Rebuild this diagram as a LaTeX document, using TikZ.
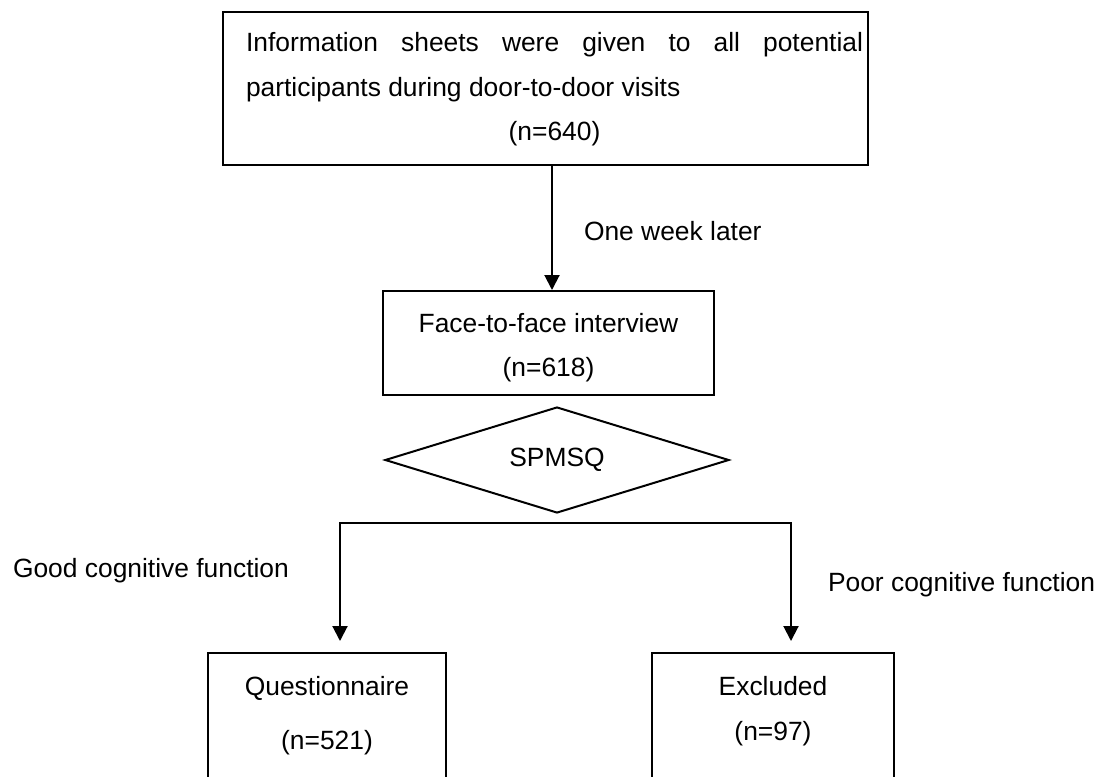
\documentclass[tikz,border=0pt]{standalone}
\usepackage{fontspec}
\setmainfont{Liberation Sans}
\usetikzlibrary{shapes.geometric,arrows.meta}

\begin{document}
\begin{tikzpicture}[x=0.5pt, y=-0.5pt, line width=1pt,
    >={Triangle[length=7.5pt,width=7.5pt]},
    box/.style={draw, inner sep=0pt},
    txt/.style={inner sep=0pt, font=\fontsize{13.2}{22}\selectfont}]
    \useasboundingbox (0,0) rectangle (1107,776);
    \clip (0,0) rectangle (1107,776);
    \coordinate (axis) at (552,0);
    \coordinate (forkl) at (340,523);
    \coordinate (forkr) at (791,523);

    \node[box, minimum width=322.5pt, minimum height=76.5pt] (info) at (545.5,88.5) {};
    \node[txt, anchor=north west, text width=308.5pt, align=justify,
      font=\fontsize{13.2}{22.25}\selectfont] (infotext) at (245,31.8)
    {Information sheets were given to all potential\linebreak participants during door-to-door visits\par\centering(n=640)\par};

    \node[box, minimum width=165.5pt, minimum height=52pt] (face) at (548.5,343) {};
    \node[txt, align=center] (facetext) at (548.5,347.2) {Face-to-face interview\\(n=618)};

    \node[box, txt, diamond, aspect=3.25, minimum width=172pt, minimum height=53pt] (spmsq) at (557,460) {SPMSQ};

    \node[box, minimum width=119pt, minimum height=73.5pt] (quest) at (327,726.5) {};
    \node[txt, align=center, font=\fontsize{13.2}{27}\selectfont] (questtext) at (327,715.2) {Questionnaire\\(n=521)};
    \node[box, minimum width=121pt, minimum height=73.5pt] (excl) at (773,726.5) {};
    \node[txt, align=center, font=\fontsize{13.2}{22.5}\selectfont] (excltext) at (773,710.8) {Excluded\\(n=97)};

    \draw[->] (info.south -| axis) -- (face.north -| axis);
    \node[txt, anchor=base west] (later) at (583,240) {One week later};
    \draw[<->, shorten <=5.5pt, shorten >=5.5pt] (quest.north -| forkl) -- (forkl) -- (forkr) -- (excl.north -| forkr);
    \node[txt, anchor=base west] (good) at (12,577) {Good cognitive function};
    \node[txt, anchor=base west] (poor) at (827,591) {Poor cognitive function};
\end{tikzpicture}
\end{document}
